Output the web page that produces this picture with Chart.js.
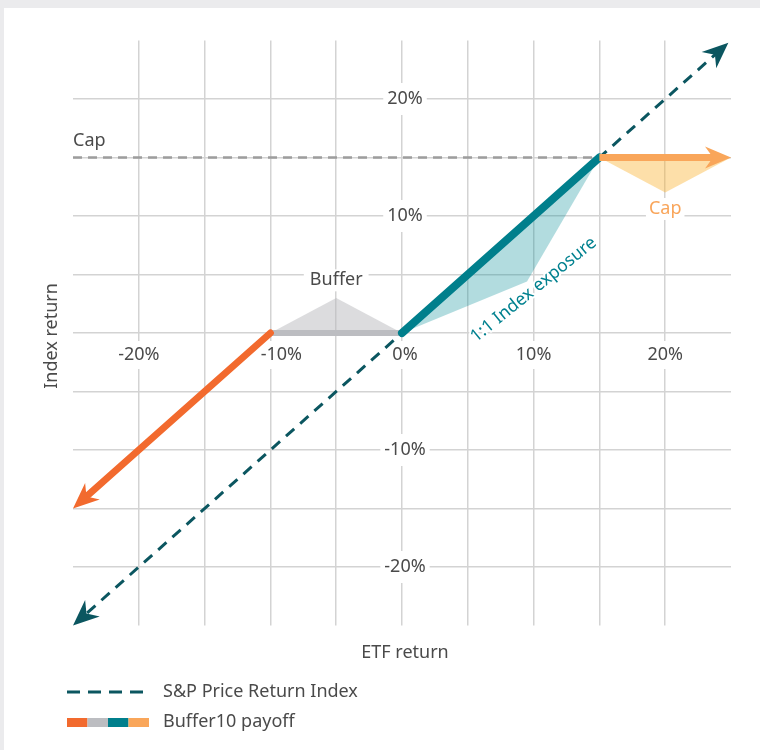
<!DOCTYPE html>
<html lang="en">
<head>
  <meta charset="UTF-8" />
  <title>Buffer10 payoff</title>
  <script src="https://cdn.jsdelivr.net/npm/chart.js"></script>
  <style>
    html, body { margin: 0; padding: 0; background: #ebebed; }
    #wrap { position: absolute; left: 4px; top: 8px; width: 756px; height: 742px; background: #fff; }
  </style>
</head>
<body>
  <div id="wrap"><canvas id="payoffChart"></canvas></div>

  <script>
    // axis range (%), grid every 5%
    const axisMin = -25;
    const axisMax = 25;
    const gridStep = 5;
    const xTickLabels = [-20, -10, 0, 10, 20];
    const yTickLabels = [20, 10, -10, -20];

    // S&P price return index (ETF return = index return)
    const indexLine = [[-25, -25], [24.8, 24.8]];
    // Buffer10 payoff pieces
    const payoffLoss = [[-10, 0], [-25, -15]];
    const payoffBuffer = [[-10, 0], [0, 0]];
    const payoffUp = [[0, 0], [15, 15]];
    const payoffCapped = [[15, 15], [25, 15]];
    const capLevel = [[-25, 15], [15, 15]];
    // shaded callouts
    const bufferShape = [[-10, 0], [-5, 3], [0, 0], [-10, 0]];
    const exposureShape = [[0, 0], [15, 15], [9.5, 4.4], [0, 0]];
    const capShape = [[15, 15], [20, 12], [25, 15], [15, 15]];

    const FONT = '"Noto Sans", sans-serif';
    const toXY = pts => pts.map(p => ({ x: p[0], y: p[1] }));

    // arrow head geometry
    const AL = 26, AW = 11, AN = 18;

    function arrowGeom(meta, atEnd) {
      const pts = meta.data;
      const a = atEnd ? pts[pts.length - 1] : pts[0];
      const b = atEnd ? pts[pts.length - 2] : pts[1];
      const dx = a.x - b.x, dy = a.y - b.y;
      const len = Math.hypot(dx, dy);
      return { tx: a.x, ty: a.y, ux: dx / len, uy: dy / len };
    }

    function boxedText(ctx, text, cx, cy, color, padX, padY) {
      const w = ctx.measureText(text).width;
      ctx.fillStyle = '#fff';
      ctx.fillRect(cx - w / 2 - padX, cy - 9 - padY, w + padX * 2, 18 + padY * 2);
      ctx.fillStyle = color;
      ctx.fillText(text, cx, cy);
    }

    const decor = {
      id: 'decor',
      beforeDatasetDraw(chart, args) {
        const ds = chart.data.datasets[args.index];
        if (!ds.arrows) return;
        const ctx = chart.ctx;
        ctx.save();
        // stop the line at the arrow notch
        ds.arrows.forEach(end => {
          const g = arrowGeom(args.meta, end === 'end');
          const nx = -g.uy, ny = g.ux, B = 3000;
          const cx = g.tx - g.ux * (AN - 1), cy = g.ty - g.uy * (AN - 1);
          ctx.beginPath();
          ctx.moveTo(cx + nx * B, cy + ny * B);
          ctx.lineTo(cx - nx * B, cy - ny * B);
          ctx.lineTo(cx - nx * B - g.ux * B, cy - ny * B - g.uy * B);
          ctx.lineTo(cx + nx * B - g.ux * B, cy + ny * B - g.uy * B);
          ctx.closePath();
          ctx.clip();
        });
      },
      afterDatasetDraw(chart, args) {
        const ds = chart.data.datasets[args.index];
        if (ds.arrows) chart.ctx.restore();
      },
      beforeDatasetsDraw(chart) {
        const { ctx, scales: { x, y }, chartArea } = chart;
        const x0 = x.getPixelForValue(0), y0 = y.getPixelForValue(0);
        ctx.save();
        ctx.font = '18px ' + FONT;
        ctx.textAlign = 'center';
        ctx.textBaseline = 'middle';
        xTickLabels.forEach(v => {
          const nudge = v === -10 ? 11 : (v === 0 ? 3 : 0);
          boxedText(ctx, v + '%', x.getPixelForValue(v) + nudge, y0 + 22, '#4a4a4a', 4, 5);
        });
        yTickLabels.forEach(v => {
          boxedText(ctx, v + '%', x0 + 3, y.getPixelForValue(v), '#4a4a4a', 4, 7);
        });
        boxedText(ctx, 'Buffer', x.getPixelForValue(-5), y.getPixelForValue(4.5), '#4a4a4a', 6, 2);
        boxedText(ctx, 'Cap', x.getPixelForValue(20), y.getPixelForValue(10.6), '#f9a55a', 3, 2);
        ctx.textAlign = 'left';
        ctx.fillStyle = '#4a4a4a';
        ctx.fillText('Cap', chartArea.left, y.getPixelForValue(15) - 17);
        ctx.restore();
      },
      afterDatasetsDraw(chart) {
        const { ctx, scales: { x, y } } = chart;
        ctx.save();
        // arrow heads
        chart.data.datasets.forEach((ds, i) => {
          if (!ds.arrows) return;
          const meta = chart.getDatasetMeta(i);
          ds.arrows.forEach(end => {
            const g = arrowGeom(meta, end === 'end');
            const nx = -g.uy, ny = g.ux;
            ctx.fillStyle = ds.borderColor;
            ctx.beginPath();
            ctx.moveTo(g.tx, g.ty);
            ctx.lineTo(g.tx - g.ux * AL + nx * AW, g.ty - g.uy * AL + ny * AW);
            ctx.lineTo(g.tx - g.ux * AN, g.ty - g.uy * AN);
            ctx.lineTo(g.tx - g.ux * AL - nx * AW, g.ty - g.uy * AL - ny * AW);
            ctx.closePath();
            ctx.fill();
          });
        });
        // rotated exposure label
        ctx.translate(x.getPixelForValue(10), y.getPixelForValue(3.7));
        ctx.rotate(-39 * Math.PI / 180);
        ctx.font = '17.5px ' + FONT;
        ctx.textAlign = 'center';
        ctx.textBaseline = 'middle';
        ctx.lineWidth = 4;
        ctx.strokeStyle = '#fff';
        ctx.lineJoin = 'round';
        ctx.strokeText('1:1 Index exposure', 0, 0);
        ctx.fillStyle = '#00818f';
        ctx.fillText('1:1 Index exposure', 0, 0);
        ctx.restore();
      },
      afterDraw(chart) {
        const { ctx, scales: { x }, chartArea } = chart;
        ctx.save();
        ctx.font = '18px ' + FONT;
        ctx.fillStyle = '#4a4a4a';
        ctx.textAlign = 'center';
        ctx.textBaseline = 'middle';
        ctx.fillText('ETF return', x.getPixelForValue(0) + 3, chartArea.bottom + 27);
        ctx.save();
        ctx.translate(48, (chartArea.top + chartArea.bottom) / 2 + 3);
        ctx.rotate(-Math.PI / 2);
        ctx.fillText('Index return', 0, 0);
        ctx.restore();

        // legend
        ctx.textAlign = 'left';
        ctx.strokeStyle = '#0b5660';
        ctx.lineWidth = 3;
        ctx.setLineDash([13, 8]);
        ctx.beginPath();
        ctx.moveTo(63, 684);
        ctx.lineTo(145, 684);
        ctx.stroke();
        ctx.setLineDash([]);
        ctx.fillText('S&P Price Return Index', 159, 684);
        ['#f26a2e', '#bcbdc1', '#007f8c', '#f9a65a'].forEach((c, i) => {
          ctx.fillStyle = c;
          ctx.fillRect(63 + i * 20.5, 710, 20.5, 9);
        });
        ctx.fillStyle = '#4a4a4a';
        ctx.fillText('Buffer10 payoff', 159, 714);
        ctx.restore();
      }
    };

    const lineDs = (pts, color, width, extra) => Object.assign({
      data: toXY(pts),
      showLine: true,
      borderColor: color,
      borderWidth: width,
      pointRadius: 0,
      fill: false
    }, extra || {});

    const shapeDs = (pts, color) => ({
      data: toXY(pts),
      showLine: true,
      borderColor: 'rgba(0,0,0,0)',
      borderWidth: 0,
      backgroundColor: color,
      pointRadius: 0,
      fill: 'shape'
    });

    const gridColor = ctx => Math.abs(ctx.tick.value) === axisMax ? 'rgba(0,0,0,0)' : '#d3d3d3';

    new Chart(document.getElementById('payoffChart'), {
      type: 'scatter',
      data: {
        datasets: [
          lineDs(payoffCapped, '#f9a65a', 7, { arrows: ['end'] }),
          lineDs(payoffUp, '#007f8c', 8, { borderCapStyle: 'round' }),
          lineDs(payoffLoss, '#f26a2e', 7, { borderCapStyle: 'round', arrows: ['end'] }),
          lineDs(payoffBuffer, '#bcbdc1', 6),
          lineDs(indexLine, '#0b5660', 3, { borderDash: [11, 8], arrows: ['start', 'end'] }),
          lineDs(capLevel, '#9d9d9d', 2.5, { borderDash: [9, 6] }),
          shapeDs(exposureShape, 'rgba(0,140,150,0.3)'),
          shapeDs(capShape, 'rgba(251,178,50,0.42)'),
          shapeDs(bufferShape, 'rgba(185,186,190,0.5)')
        ]
      },
      options: {
        responsive: true,
        maintainAspectRatio: false,
        animation: false,
        layout: { padding: { left: 69, top: 32.5, right: 29, bottom: 124.5 } },
        plugins: { legend: { display: false }, tooltip: { enabled: false } },
        scales: {
          x: {
            type: 'linear', min: axisMin, max: axisMax, position: { y: 0 },
            ticks: { stepSize: gridStep, display: false },
            grid: { color: gridColor, lineWidth: 1.5, drawTicks: false },
            border: { display: false }
          },
          y: {
            type: 'linear', min: axisMin, max: axisMax, position: { x: 0 },
            ticks: { stepSize: gridStep, display: false },
            grid: { color: gridColor, lineWidth: 1.5, drawTicks: false },
            border: { display: false }
          }
        }
      },
      plugins: [decor]
    });
  </script>
</body>
</html>
